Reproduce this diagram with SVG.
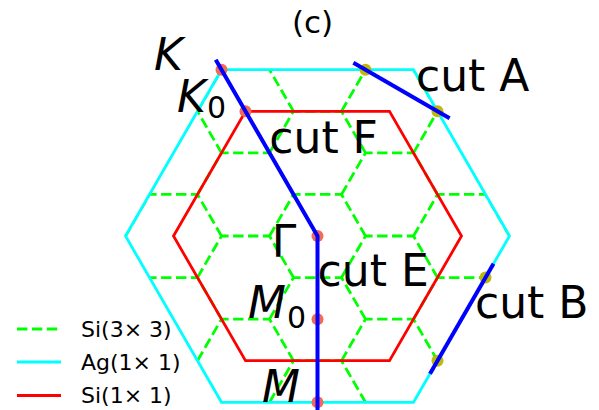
<svg xmlns="http://www.w3.org/2000/svg" width="599" height="410" viewBox="0 0 599 410">
<style>
.lbl{font-family:"DejaVu Sans",sans-serif;font-size:44px;fill:#000}
.math{font-family:"DejaVu Sans",sans-serif;font-size:44px;font-style:italic;fill:#000}
.sub{font-family:"DejaVu Sans",sans-serif;font-size:30px;fill:#000}
.leg{font-family:"DejaVu Sans",sans-serif;font-size:22px;fill:#000}
.green{fill:none;stroke:#00ff00;stroke-width:2.8;stroke-dasharray:10.4 4.5}
.cyan{fill:none;stroke:#00ffff;stroke-width:2.8;stroke-linejoin:miter}
.red{fill:none;stroke:#ff0000;stroke-width:2.8;stroke-linejoin:miter}
.cut{fill:none;stroke:#0000ff;stroke-width:4;stroke-linecap:butt}
.pr{fill:#f26b55}
.py{fill:#bdb90a}
</style>
<defs>
<clipPath id="agclip"><polygon points="125.5,236 221.5,69.72 413.5,69.72 509.5,236 413.5,402.28 221.5,402.28"/></clipPath>
</defs>
<rect width="599" height="410" fill="#fff"/>
<text class="lbl" x="312.5" y="32.5" text-anchor="middle" style="font-size:31px">(c)</text>
<g id="si3x3" clip-path="url(#agclip)">
<path class="green" d="M125.5,152.86 L149.5,111.29 L197.5,111.29 L221.5,152.86 M125.5,236 L149.5,194.43 L197.5,194.43 L221.5,236 M125.5,319.14 L149.5,277.57 L197.5,277.57 L221.5,319.14 M197.5,111.29 L221.5,69.72 L269.5,69.72 L293.5,111.29 M197.5,194.43 L221.5,152.86 L269.5,152.86 L293.5,194.43 M197.5,277.57 L221.5,236 L269.5,236 L293.5,277.57 M197.5,360.71 L221.5,319.14 L269.5,319.14 L293.5,360.71 M269.5,152.86 L293.5,111.29 L341.5,111.29 L365.5,152.86 M269.5,236 L293.5,194.43 L341.5,194.43 L365.5,236 M269.5,319.14 L293.5,277.57 L341.5,277.57 L365.5,319.14 M269.5,402.28 L293.5,360.71 L341.5,360.71 L365.5,402.28 M341.5,111.29 L365.5,69.72 L413.5,69.72 L437.5,111.29 M341.5,194.43 L365.5,152.86 L413.5,152.86 L437.5,194.43 M341.5,277.57 L365.5,236 L413.5,236 L437.5,277.57 M341.5,360.71 L365.5,319.14 L413.5,319.14 L437.5,360.71 M413.5,152.86 L437.5,111.29 L485.5,111.29 L509.5,152.86 M413.5,236 L437.5,194.43 L485.5,194.43 L509.5,236 M413.5,319.14 L437.5,277.57 L485.5,277.57 L509.5,319.14"/>
</g>
<g id="ag1x1">
<polygon class="cyan" points="125.5,236 221.5,69.72 413.5,69.72 509.5,236 413.5,402.28 221.5,402.28"/>
</g>
<g id="si1x1">
<polygon class="red" points="173.5,236 245.5,111.29 389.5,111.29 461.5,236 389.5,360.71 245.5,360.71"/>
</g>
<g id="points">
<circle class="pr" cx="221.5" cy="69.72" r="6"/>
<circle class="pr" cx="245.5" cy="111.29" r="6"/>
<circle class="pr" cx="317.5" cy="236" r="6"/>
<circle class="pr" cx="317.5" cy="319.14" r="6"/>
<circle class="pr" cx="317.5" cy="402.28" r="6"/>
<circle class="py" cx="365.5" cy="69.72" r="6"/>
<circle class="py" cx="437.5" cy="111.29" r="6"/>
<circle class="py" cx="485.5" cy="277.57" r="6"/>
<circle class="py" cx="437.5" cy="360.71" r="6"/>
</g>
<g id="connectors">
<polyline class="cut" points="215.75,59.76 317.5,236 317.5,412.5"/>
<line class="cut" x1="353.4" y1="62.7" x2="449.6" y2="118.3"/>
<line class="cut" x1="493.5" y1="263.7" x2="430" y2="373.7"/>
</g>
<g id="labels">
<text class="math" x="154" y="70">K</text>
<text class="math" x="177" y="111.7">K</text>
<text class="sub" x="207" y="117.5">0</text>
<text class="lbl" x="271.7" y="256.5">Γ</text>
<text class="math" x="248" y="318">M</text>
<text class="sub" x="287" y="327.5">0</text>
<text class="math" x="262" y="401.7">M</text>
<text class="lbl" x="416" y="91">cut A</text>
<text class="lbl" x="269.3" y="153">cut F</text>
<text class="lbl" x="317.6" y="286">cut E</text>
<text class="lbl" x="475" y="318">cut B</text>
</g>
<g id="legend">
<line class="green" x1="17" y1="329" x2="61" y2="329"/>
<text class="leg" x="81" y="336.7">Si(3× 3)</text>
<line class="cyan" x1="17" y1="362" x2="61" y2="362"/>
<text class="leg" x="81" y="369.5">Ag(1× 1)</text>
<line class="red" x1="17" y1="395.5" x2="61" y2="395.5"/>
<text class="leg" x="81" y="402.5">Si(1× 1)</text>
</g>
</svg>
